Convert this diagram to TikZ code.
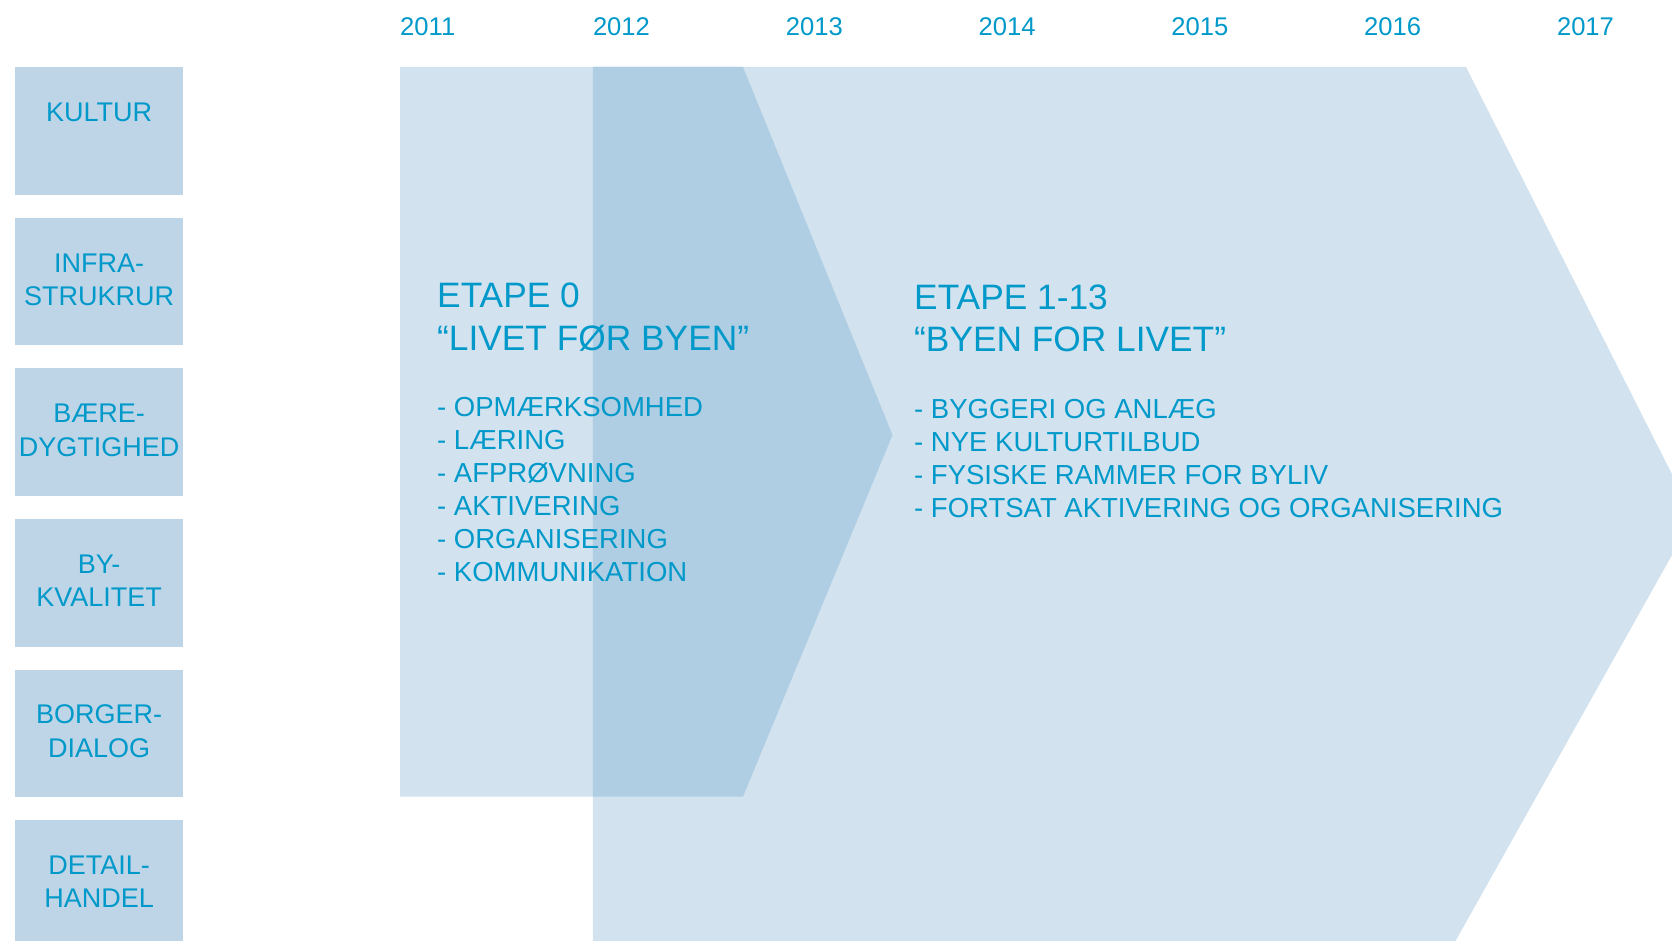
\documentclass[tikz,border=0pt]{standalone}
\usepackage{fontspec}
\setmainfont{Liberation Sans}
\definecolor{txt}{HTML}{0099C9}
\definecolor{boxc}{HTML}{BED5E8}
\definecolor{lite}{HTML}{D2E2EF}
\definecolor{darkov}{HTML}{B0CEE3}
\tikzset{
  yearlbl/.style={anchor=base west, inner sep=0pt, text=txt, font=\fontsize{25.6}{30}\selectfont},
  catbox/.style={anchor=north west, inner sep=0pt, fill=boxc, draw=none, minimum width=168.2pt, minimum height=127.5pt},
  catlbl/.style={anchor=base, inner sep=0pt, text=txt, font=\fontsize{27}{33}\selectfont},
  headlbl/.style={anchor=base west, inner sep=0pt, text=txt, font=\fontsize{35.3}{42}\selectfont},
  itemlbl/.style={anchor=base west, inner sep=0pt, text=txt, font=\fontsize{27.5}{33}\selectfont},
}
\begin{document}
\begin{tikzpicture}[x=1pt,y=-1pt]
\useasboundingbox (0,0) rectangle (1672,941);
\clip (0,0) rectangle (1672,941);
% big arrow (Etape 1-13)
\fill[lite] (592.8,67) -- (1466,67) -- (1693.5,516.7) -- (1455.5,941) -- (592.8,941) -- cycle;
% Etape 0 arrow
\fill[lite] (400,67) -- (743,67) -- (892.5,435) -- (743,796.7) -- (400,796.7) -- cycle;
% overlap
\fill[darkov] (592.8,67) -- (743,67) -- (892.5,435) -- (743,796.7) -- (592.8,796.7) -- cycle;
% years
\foreach \k/\yr in {0/2011,1/2012,2/2013,3/2014,4/2015,5/2016,6/2017}
  \node[yearlbl] (y\yr) at ({400+192.8*\k},35.8) {\yr};
% category boxes
\foreach \i/\a/\b in {0/KULTUR/,1/INFRA-/STRUKRUR,2/BÆRE-/DYGTIGHED,3/BY-/KVALITET,4/BORGER-/DIALOG,5/DETAIL-/HANDEL}{
  \node[catbox] (cat\i) at (14.8,{67+150.6*\i}) {};
  \node[catlbl] (cat\i a) at ([yshift=-54.5pt]cat\i.north) {\a};
  \node[catlbl] (cat\i b) at ([yshift=-87.8pt]cat\i.north) {\b};
}
% Etape 0 text
\node[headlbl] (e0h1) at (437,307) {ETAPE 0};
\node[headlbl] (e0h2) at (437,350) {“LIVET FØR BYEN”};
\foreach \j/\t in {0/OPMÆRKSOMHED,1/LÆRING,2/AFPRØVNING,3/AKTIVERING,4/ORGANISERING,5/KOMMUNIKATION}
  \node[itemlbl] (e0i\j) at (437,{416+33.1*\j}) {- \t};
% Etape 1-13 text
\node[headlbl] (e1h1) at (914,309) {ETAPE 1-13};
\node[headlbl] (e1h2) at (914,351) {“BYEN FOR LIVET”};
\foreach \j/\t in {0/BYGGERI OG ANLÆG,1/NYE KULTURTILBUD,2/FYSISKE RAMMER FOR BYLIV,3/FORTSAT AKTIVERING OG ORGANISERING}
  \node[itemlbl] (e1i\j) at (914,{418+33*\j}) {- \t};
\end{tikzpicture}
\end{document}
